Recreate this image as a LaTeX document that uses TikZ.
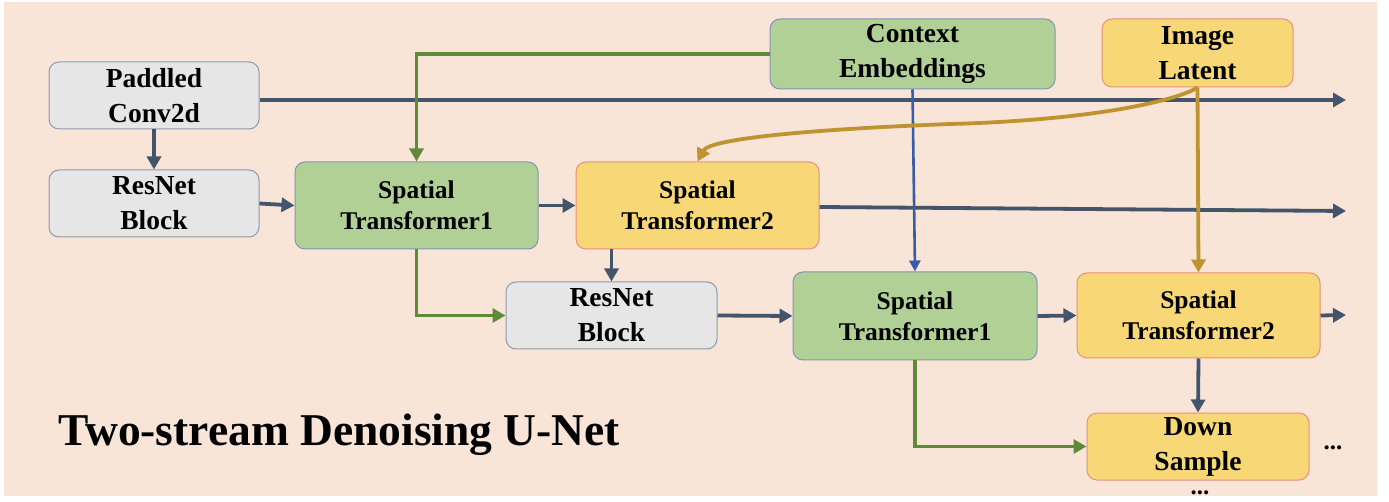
\documentclass[tikz,border=0pt]{standalone}
\usepackage{fontspec}
\setmainfont{Liberation Serif}[BoldFont={Liberation Serif Bold}]
\newfontface\tbold{Liberation Serif Bold}
\usetikzlibrary{arrows.meta}
\definecolor{bgpeach}{HTML}{F8E5D8}
\definecolor{darkarr}{HTML}{44546A}
\definecolor{greenarr}{HTML}{5F8A3A}
\definecolor{bluearr}{HTML}{3A5BA8}
\definecolor{goldarr}{HTML}{BF9330}
\definecolor{grayfill}{HTML}{E6E6E6}
\definecolor{grayline}{HTML}{8C9AAF}
\definecolor{greenfill}{HTML}{B1D096}
\definecolor{greenline}{HTML}{7F95B5}
\definecolor{yellowfill}{HTML}{F8D876}
\definecolor{yellowline}{HTML}{E8907A}
\tikzset{
  box/.style={rounded corners=10pt, line width=1pt, align=center, inner sep=0pt,
    font=\tbold\fontsize{27.5}{35}\selectfont},
  graybox/.style={box, draw=grayline, fill=grayfill},
  greenbox/.style={box, draw=greenline, fill=greenfill},
  yellowbox/.style={box, draw=yellowline, fill=yellowfill},
  stfont/.style={font=\tbold\fontsize{25.5}{31}\selectfont},
  tip/.style={-{Triangle[length=13pt,width=14pt]}},
  darr/.style={tip, draw=darkarr, line width=3.8pt},
  garr/.style={tip, draw=greenarr, line width=3.8pt},
  barr/.style={-{Triangle[length=11pt,width=11pt]}, draw=bluearr, line width=2.6pt},
  yarr/.style={tip, draw=goldarr, line width=3.8pt},
}
\begin{document}
\begin{tikzpicture}[x=1pt,y=-1pt]
\useasboundingbox (0,0) rectangle (1389,502);
\fill[white] (0,0) rectangle (1389,502);
\fill[bgpeach] (4,2) rectangle (1377,496);

\node[graybox, minimum width=210pt, minimum height=67pt] (pad) at (154,95.5) {Paddled\\Conv2d};
\node[graybox, minimum width=210pt, minimum height=67pt] (res1) at (154,203.5) {ResNet\\Block};
\node[greenbox, stfont, minimum width=243pt, minimum height=87pt] (st1) at (416.5,205.5) {Spatial\\Transformer1};
\node[yellowbox, stfont, minimum width=243pt, minimum height=87pt] (st2) at (697.5,205.5) {Spatial\\Transformer2};
\node[greenbox, minimum width=285pt, minimum height=70pt] (ctx) at (912.5,54) {Context\\Embeddings};
\node[yellowbox, minimum width=191pt, minimum height=68pt] (img) at (1197.5,53) {Image\\Latent};
\node[graybox, minimum width=211pt, minimum height=67pt] (res2) at (611.5,315.5) {ResNet\\Block};
\node[greenbox, stfont, minimum width=244pt, minimum height=88pt] (st1b) at (915,316) {Spatial\\Transformer1};
\node[yellowbox, stfont, minimum width=243pt, minimum height=85pt] (st2b) at (1198.5,315.5) {Spatial\\Transformer2};
\node[yellowbox, minimum width=222pt, minimum height=67pt] (down) at (1198,446.5) {Down\\Sample};

\node[font=\tbold\fontsize{45.5}{54}\selectfont, anchor=base west, inner sep=0pt] (title) at (58,445) {Two-stream Denoising U-Net};
\node[font=\tbold\fontsize{25}{30}\selectfont, inner sep=0pt] (dots1) at (1333,448) {...};
\node[font=\tbold\fontsize{25}{30}\selectfont, inner sep=0pt] (dots2) at (1200,493) {...};

\coordinate (e1) at (1346,100);
\coordinate (e2) at (1346,211);
\coordinate (e3) at (1346,315);

% dark arrows
\draw[darr] (pad.east |- e1) -- (e1);
\draw[darr] (pad.south) -- (res1.north);
\draw[darr] (res1.east) -- (st1.west);
\draw[darr] (st1.east) -- (st2.west);
\draw[darr] ([yshift=-1.5pt]st2.east) -- (e2);
\draw[darr] (res2.north |- st2.south) -- (res2.north);
\draw[darr] (res2.east) -- (st1b.west);
\draw[darr] (st1b.east) -- (st2b.west);
\draw[darr] (st2b.east) -- (e3);
\draw[darr] (st2b.south) -- (down.north);

% green arrows
\draw[garr] (ctx.west) -- (st1.north |- ctx.west) -- (st1.north);
\draw[garr] (st1.south) |- (res2.west);
\draw[garr] (st1b.south) |- (down.west);

% blue arrow
\draw[barr] (ctx.south) -- (st1b.north);

% gold arrows
\draw[yarr] (img.south) -- (st2b.north);
\draw[yarr] (img.south) .. controls (1180,99) and (1100,120) .. (950,124)
  .. controls (820,129) and (710,138) .. (st2.north);
\end{tikzpicture}
\end{document}
